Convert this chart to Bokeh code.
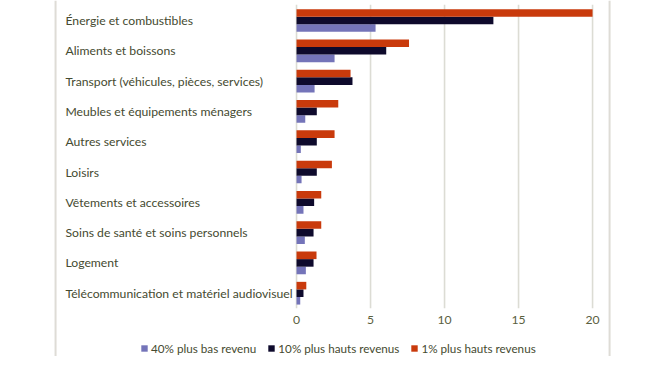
from bokeh.plotting import figure
from bokeh.models import ColumnDataSource, Range1d, FixedTicker, LinearAxis, Span, Legend, LegendItem
from bokeh.transform import dodge
from bokeh.core.properties import value
from bokeh.embed import file_html
from bokeh.resources import INLINE

categories = [
    "Énergie et combustibles",
    "Aliments et boissons",
    "Transport (véhicules, pièces, services)",
    "Meubles et équipements ménagers",
    "Autres services",
    "Loisirs",
    "Vêtements et accessoires",
    "Soins de santé et soins personnels",
    "Logement",
    "Télécommunication et matériel audiovisuel",
]
bottom40 = [5.34, 2.57, 1.22, 0.59, 0.29, 0.34, 0.47, 0.56, 0.63, 0.25]
top10 = [13.3, 6.06, 3.78, 1.37, 1.37, 1.37, 1.19, 1.15, 1.15, 0.47]
top1 = [20.0, 7.6, 3.65, 2.82, 2.57, 2.39, 1.67, 1.67, 1.35, 0.66]
series_names = ["40% plus bas revenu", "10% plus hauts revenus", "1% plus hauts revenus"]
x_ticks = [0, 5, 10, 15, 20]

n = len(categories)
ypos = [n - 1 - i for i in range(n)]

FONT = "Lato"
TXT = "#454a30"
GRID = "#dcdcd4"
FS = "12.2px"

src = ColumnDataSource(dict(y=ypos, cat=categories, b40=bottom40, t10=top10, t1=top1,
                            lx=[-15.61] * n))

p = figure(width=656, height=356, output_backend="svg", toolbar_location=None,
           x_range=Range1d(-20.0, 24.32), y_range=Range1d(-2.089, 9.66),
           min_border=0, outline_line_color=None)
p.xaxis.visible = False
p.yaxis.visible = False
p.xgrid.visible = False
p.ygrid.visible = False

# grid lines
gsrc = ColumnDataSource(dict(x=x_ticks, y0=[-0.5] * len(x_ticks), y1=[9.52] * len(x_ticks)))
p.segment(x0="x", x1="x", y0="y0", y1="y1", source=gsrc, line_color=GRID, line_width=1.6)

bh = 0.25
r_p = p.hbar(y=dodge("y", -0.25, range=p.y_range), right="b40", left=0, height=bh, source=src,
             fill_color="#7474b9", line_color=None)
r_b = p.hbar(y=dodge("y", 0.0, range=p.y_range), right="t10", left=0, height=bh, source=src,
             fill_color="#0e0a2c", line_color=None)
r_r = p.hbar(y=dodge("y", 0.25, range=p.y_range), right="t1", left=0, height=bh, source=src,
             fill_color="#c93a0c", line_color=None)

# category labels
p.text(x="lx", y="y", text="cat", source=src, text_font=value(FONT), text_font_size=FS,
       text_color=TXT, text_align="left", text_baseline="middle")

# x axis inside frame
ax = LinearAxis(ticker=FixedTicker(ticks=x_ticks), fixed_location=-0.5)
ax.axis_line_color = None
ax.major_tick_line_color = None
ax.minor_tick_line_color = None
ax.major_label_standoff = 2
ax.major_label_text_font = FONT
ax.major_label_text_font_size = FS
ax.major_label_text_color = "#5a6040"
p.add_layout(ax, "below")

# side border lines
for xb in (-16.28, 21.15):
    p.add_layout(Span(location=xb, dimension="height", line_color="#dedcd6", line_width=2))

legend = Legend(items=[LegendItem(label=series_names[0], renderers=[r_p]),
                       LegendItem(label=series_names[1], renderers=[r_b]),
                       LegendItem(label=series_names[2], renderers=[r_r])],
                orientation="horizontal", location=(140, 1), glyph_width=8, glyph_height=8,
                label_standoff=3, spacing=11, padding=0, margin=0,
                label_text_font=FONT, label_text_font_size="11.7px", label_text_color=TXT,
                border_line_color=None, background_fill_alpha=0)
p.add_layout(legend, "center")

open("out.html", "w").write(file_html(p, INLINE))
